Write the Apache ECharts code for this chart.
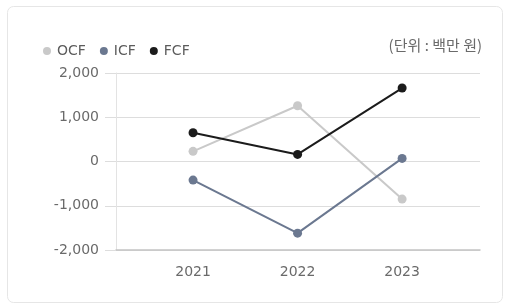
<!DOCTYPE html>
<html>
<head>
<meta charset="utf-8">
<script src="https://cdn.jsdelivr.net/npm/echarts@6/dist/echarts.min.js"></script>
<style>
  html, body { margin: 0; padding: 0; background: #fff; }
  #chart { width: 508px; height: 306px; }
</style>
</head>
<body>
<div id="chart"></div>
<script>
// 연도
const years = [2021, 2022, 2023]
// 현금흐름 (백만 원)
const ocf = [230, 1260, -850]
const icf = [-420, -1620, 70]
const fcf = [650, 160, 1660]
const yTicks = [-2000, -1000, 0, 1000, 2000]

const font = '"DejaVu Sans", "Noto Sans CJK KR", sans-serif'
const krFont = '"Noto Sans CJK KR", sans-serif'

function pairs(vals) {
  return years.map((y, i) => [y, vals[i]])
}

function lineSeries(name, vals, color) {
  return {
    name: name,
    type: 'line',
    data: pairs(vals),
    symbol: 'circle',
    symbolSize: 9,
    lineStyle: { color: color, width: 2 },
    itemStyle: { color: color },
    emphasis: { disabled: true }
  }
}

const chart = echarts.init(document.getElementById('chart'))
chart.setOption({
  animation: false,
  textStyle: { fontFamily: font },
  graphic: [{
    type: 'rect',
    shape: { x: 7.5, y: 6.5, width: 495, height: 296, r: 6 },
    style: { fill: '#fff', stroke: '#e6e6e6', lineWidth: 1 },
    z: -10
  }, {
    type: 'text',
    right: 26,
    top: 38,
    style: { text: '(단위 : 백만 원)', fill: '#6a6a6a', font: '15px ' + krFont }
  }],
  legend: {
    left: 38,
    top: 39,
    itemWidth: 8,
    itemHeight: 8,
    itemGap: 14,
    icon: 'circle',
    textStyle: { color: '#5c5c5c', fontSize: 14, fontFamily: font, padding: [0, 0, 0, 1] },
    data: ['OCF', 'ICF', 'FCF']
  },
  grid: { left: 116, right: 28, top: 73, bottom: 56 },
  xAxis: {
    type: 'value',
    min: years[0] - 0.737,
    max: years[2] + 0.745,
    axisLine: { show: true, onZero: false, lineStyle: { color: '#c4c4c4', width: 1.5 } },
    axisTick: { show: false },
    splitLine: { show: false },
    axisLabel: {
      customValues: years,
      color: '#6a6a6a',
      fontSize: 14,
      margin: 15,
      formatter: v => String(v)
    }
  },
  yAxis: {
    type: 'value',
    min: yTicks[0],
    max: yTicks[yTicks.length - 1],
    interval: 1000,
    axisLine: { show: true, lineStyle: { color: '#e3e3e3' } },
    axisTick: { show: true, length: 11, lineStyle: { color: '#dddddd' } },
    splitLine: { lineStyle: { color: '#dddddd' } },
    axisLabel: {
      color: '#6a6a6a',
      fontSize: 14,
      margin: 17,
      formatter: v => v.toLocaleString('en-US')
    }
  },
  series: [
    lineSeries('OCF', ocf, '#c9c9c9'),
    lineSeries('ICF', icf, '#6b7890'),
    lineSeries('FCF', fcf, '#1b1b1b')
  ]
})
</script>
</body>
</html>
